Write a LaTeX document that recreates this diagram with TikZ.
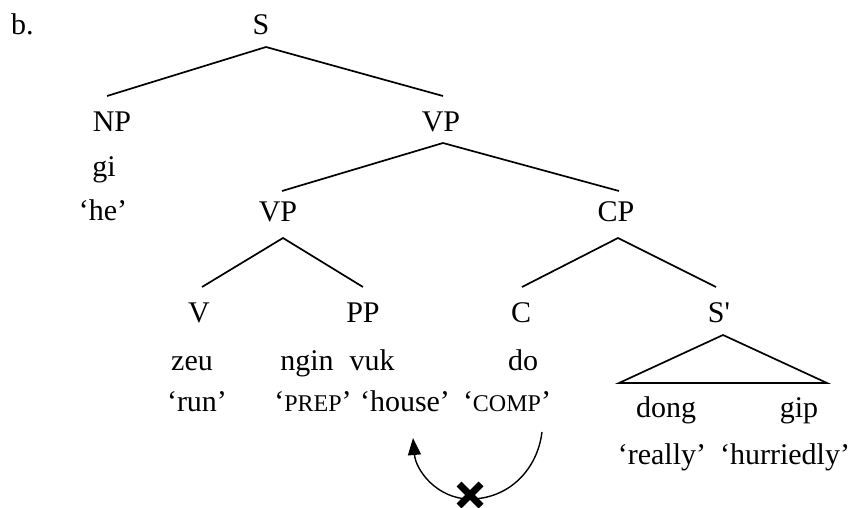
\documentclass[tikz,border=0pt]{standalone}
\usepackage{fontspec}
\setmainfont{Liberation Serif}
\usetikzlibrary{arrows.meta}
\newcommand\smcap[1]{{\fontsize{24}{28}\selectfont #1}}
\begin{document}
\begin{tikzpicture}[x=1pt,y=-1pt,
  lbl/.style={anchor=base, inner sep=0pt, font=\fontsize{30}{36}\selectfont},
  branch/.style={line width=1.7pt},
  move/.style={line width=1.4pt, -{Triangle[length=17pt,width=13pt]}},
  cross/.style={line width=7pt}]
\useasboundingbox (0,0) rectangle (868,508);

% labels
\node[lbl, anchor=base west] (ex) at (11,35) {b.};
\node[lbl] (S) at (261,35) {S};
\node[lbl] (NP) at (112,132) {NP};
\node[lbl] (VPa) at (441,132) {VP};
\node[lbl] (gi) at (104,177) {gi};
\node[lbl] (he) at (103,220) {‘he’};
\node[lbl] (VPb) at (278,222) {VP};
\node[lbl] (CP) at (616,222) {CP};
\node[lbl] (V) at (199,322) {V};
\node[lbl] (PP) at (363,322) {PP};
\node[lbl] (C) at (521,322) {C};
\node[lbl] (Sbar) at (719,322) {S\textquotesingle};
\node[lbl] (zeu) at (192,370) {zeu};
\node[lbl] (ngin) at (307,370) {ngin};
\node[lbl] (vuk) at (372,370) {vuk};
\node[lbl] (do) at (523,370) {do};
\node[lbl] (run) at (197,411) {‘run’};
\node[lbl] (prep) at (313,411) {‘\smcap{PREP}’};
\node[lbl] (house) at (405,411) {‘house’};
\node[lbl] (comp) at (507,411) {‘\smcap{COMP}’};
\node[lbl] (dong) at (666,417) {dong};
\node[lbl] (gip) at (799,417) {gip};
\node[lbl] (really) at (662,464) {‘really’};
\node[lbl] (hurr) at (785,464) {‘hurriedly’};

% branch end points
\coordinate (S-f) at (266,47);
\coordinate (NP-t) at (107,96);
\coordinate (VPa-t) at (443,96);
\coordinate (VPa-f) at (443,143);
\coordinate (VPb-t) at (282,191);
\coordinate (CP-t) at (619,191);
\coordinate (VPb-f) at (283,238);
\coordinate (V-t) at (202,287);
\coordinate (PP-t) at (363,287);
\coordinate (CP-f) at (618,238);
\coordinate (C-t) at (522,287);
\coordinate (Sbar-t) at (716,287);
\coordinate (Sbar-f) at (723,335);
\coordinate (tri-l) at (619,383);
\coordinate (tri-r) at (827,383);

\draw[branch] (NP-t) -- (S-f) -- (VPa-t);
\draw[branch] (VPb-t) -- (VPa-f) -- (CP-t);
\draw[branch] (V-t) -- (VPb-f) -- (PP-t);
\draw[branch] (C-t) -- (CP-f) -- (Sbar-t);
\draw[branch, line join=miter] (tri-l) -- (Sbar-f) -- (tri-r) -- cycle;

% blocked movement of the complementizer
\coordinate (comp-hook) at (542,432);
\coordinate (house-hook) at (413,438);
\coordinate (arc-low) at (470,499);
\draw[move] (comp-hook) to[out=-97,in=0] (arc-low) to[out=180,in=-85] (house-hook);
\coordinate (x) at (470,495);
\draw[cross] ([shift={(-11,-11)}]x) -- ([shift={(11,11)}]x);
\draw[cross] ([shift={(11,-11)}]x) -- ([shift={(-11,11)}]x);
\end{tikzpicture}
\end{document}
